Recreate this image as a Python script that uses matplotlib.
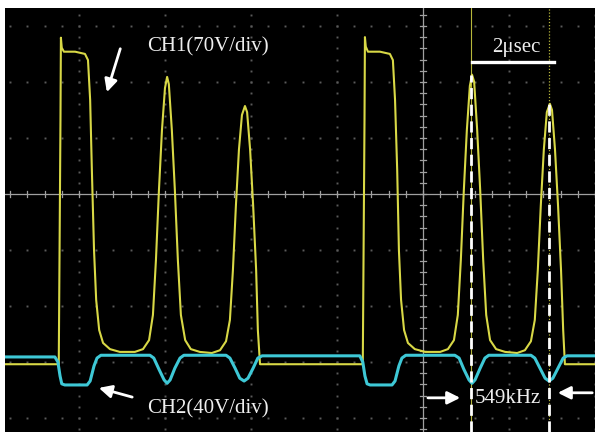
import numpy as np
import matplotlib
matplotlib.use('Agg')
import matplotlib.pyplot as plt

# screen units: time in microseconds (2 us/div), level in divisions
# CH1 (yellow) switch voltage, 70 V/div
ch1_t = [-9.72, -8.49, -8.47, -8.43, -8.42, -8.40, -8.35, -8.09, -7.86, -7.79,
         -7.74, -7.70, -7.65, -7.60, -7.53, -7.44, -7.28, -7.05, -6.70, -6.51,
         -6.37, -6.28, -6.21, -6.14, -6.07, -6.00, -5.95, -5.91, -5.84, -5.77,
         -5.70, -5.63, -5.53, -5.40, -5.19, -4.91, -4.72, -4.58, -4.49, -4.42,
         -4.35, -4.28, -4.21, -4.14, -4.09, -4.02, -3.95, -3.88, -3.84, -3.79,
         -1.42, -1.40, -1.36, -1.35, -1.33, -1.28, -1.00, -0.77, -0.70, -0.65,
         -0.60, -0.56, -0.51, -0.44, -0.35, -0.19, 0.05, 0.40, 0.58, 0.72,
         0.81, 0.88, 0.95, 1.02, 1.09, 1.14, 1.19, 1.26, 1.33, 1.40,
         1.47, 1.56, 1.70, 1.91, 2.19, 2.37, 2.51, 2.60, 2.67, 2.74,
         2.81, 2.88, 2.95, 3.00, 3.07, 3.14, 3.21, 3.26, 3.30, 4.00]
ch1_v = [-3.04, -3.04, -3.04, 1.32, 2.79, 2.61, 2.54, 2.54, 2.50, 2.39,
         1.68, 0.43, -1.00, -1.89, -2.43, -2.66, -2.77, -2.82, -2.82, -2.77,
         -2.61, -2.16, -1.18, 0.07, 1.14, 1.89, 2.09, 1.96, 1.14, 0.07,
         -1.18, -2.16, -2.61, -2.77, -2.82, -2.84, -2.79, -2.63, -2.25, -1.36,
         -0.20, 0.79, 1.41, 1.57, 1.46, 0.79, -0.20, -1.36, -2.43, -3.04,
         -3.04, -3.04, 1.32, 2.80, 2.63, 2.54, 2.54, 2.50, 2.39, 1.68,
         0.43, -1.00, -1.89, -2.43, -2.66, -2.77, -2.82, -2.82, -2.77, -2.61,
         -2.16, -1.18, 0.07, 1.14, 1.93, 2.13, 2.00, 1.14, 0.07, -1.18,
         -2.16, -2.61, -2.77, -2.82, -2.84, -2.79, -2.63, -2.25, -1.36, -0.20,
         0.79, 1.46, 1.61, 1.50, 0.79, -0.20, -1.36, -2.43, -3.04, -3.04]

# CH2 (cyan) gate voltage, 40 V/div
ch2_t = [-9.72, -8.56, -8.49, -8.44, -8.40, -8.33, -7.81, -7.74, -7.65, -7.58,
         -7.49, -6.35, -6.26, -6.14, -6.02, -5.95, -5.88, -5.77, -5.65, -5.56,
         -4.58, -4.49, -4.37, -4.26, -4.16, -4.07, -3.95, -3.84, -3.74, -1.47,
         -1.40, -1.35, -1.30, -1.23, -0.72, -0.65, -0.56, -0.49, -0.40, 0.74,
         0.84, 0.95, 1.07, 1.14, 1.21, 1.33, 1.44, 1.53, 2.51, 2.60,
         2.72, 2.84, 2.93, 3.02, 3.14, 3.26, 3.35, 4.00]
ch2_v = [-2.91, -2.91, -3.00, -3.25, -3.39, -3.41, -3.41, -3.34, -3.07, -2.93,
         -2.88, -2.88, -2.93, -3.13, -3.32, -3.38, -3.32, -3.11, -2.93, -2.88,
         -2.88, -2.93, -3.11, -3.29, -3.34, -3.29, -3.11, -2.93, -2.89, -2.89,
         -3.00, -3.25, -3.39, -3.41, -3.41, -3.34, -3.07, -2.93, -2.88, -2.88,
         -2.93, -3.13, -3.32, -3.38, -3.32, -3.11, -2.93, -2.88, -2.88, -2.93,
         -3.11, -3.29, -3.34, -3.29, -3.11, -2.93, -2.89, -2.89]

# measurement cursors (us) and the peak levels where the markers start
cursor_t = [1.12, 2.93]
cursor_top = [2.13, 1.63]
period_label = '549kHz'
span_label = '2\u03bcsec'

YELLOW = '#d8d846'
CYAN = '#3ec8d6'
T0, T1 = -9.72, 4.00
V0, V1 = -4.25, 3.32

fig = plt.figure(figsize=(5.95, 4.32), dpi=100)
fig.patch.set_facecolor('white')
ax = fig.add_axes([5 / 595, 0, 590 / 595, 424 / 432])
ax.set_facecolor('black')
ax.set_xlim(T0, T1)
ax.set_ylim(V0, V1)
ax.set_xticks([])
ax.set_yticks([])
for s in ax.spines.values():
    s.set_visible(False)

# dotted graticule
gx = np.arange(-8, 5, 2.0)
gy = np.arange(-4, 4, 1.0)
dots_x = np.arange(-9.6, 4.01, 0.4)
dots_y = np.arange(-4.2, 3.31, 0.2)
for x in gx:
    if x != 0:
        ax.plot(np.full_like(dots_y, x), dots_y, ls='none', marker='s',
                ms=1.4, color='#5a5a5a', mew=0)
for y in gy:
    if y != 0:
        ax.plot(dots_x, np.full_like(dots_x, y), ls='none', marker='s',
                ms=1.4, color='#5a5a5a', mew=0)

# centre crosshair with minor ticks
ax.axhline(0, color='#a0a0a0', lw=0.9)
ax.axvline(0, color='#a0a0a0', lw=0.9)
for x in dots_x:
    ax.plot([x, x], [-0.05, 0.05], color='#a0a0a0', lw=0.9)
for y in dots_y:
    ax.plot([-0.06, 0.06], [y, y], color='#a0a0a0', lw=0.9)

# scope cursors
ax.axvline(cursor_t[0], color=YELLOW, lw=0.8, alpha=0.85)
ax.axvline(cursor_t[1], color=YELLOW, lw=0.9, ls=(0, (1, 1.5)), alpha=0.85)

# traces
ax.plot(ch1_t, ch1_v, color=YELLOW, lw=1.5, zorder=3)
ax.plot(ch2_t, ch2_v, color=CYAN, lw=2.2, zorder=4)

# period markers
for t, top in zip(cursor_t, cursor_top):
    ax.plot([t, t], [V0, top], color='white', lw=2.0, ls=(0, (4, 2)), zorder=5)

tfont = dict(family='Liberation Serif', size=15, color='#eeeeee')
ax.plot([1.14, 3.05], [2.36, 2.36], color='white', lw=2.4, zorder=5)
ax.text(2.16, 2.62, span_label, ha='center', va='center', **tfont)
ax.text(1.97, -3.66, period_label, ha='center', va='center', **tfont)
ax.text(-6.42, 2.62, 'CH1(70V/div)', ha='left', va='center', **tfont)
ax.text(-6.42, -3.84, 'CH2(40V/div)', ha='left', va='center', **tfont)

arrow = dict(arrowstyle='-|>', color='white', lw=2.0, mutation_scale=19)
ax.annotate('', xy=(-7.37, 1.77), xytext=(-7.02, 2.64), arrowprops=arrow)
ax.annotate('', xy=(-7.60, -3.45), xytext=(-6.70, -3.64), arrowprops=arrow)
ax.annotate('', xy=(0.93, -3.64), xytext=(0.05, -3.64), arrowprops=arrow)
ax.annotate('', xy=(3.07, -3.55), xytext=(4.00, -3.55), arrowprops=arrow)

fig.savefig('out.png', dpi=100, facecolor='white')
